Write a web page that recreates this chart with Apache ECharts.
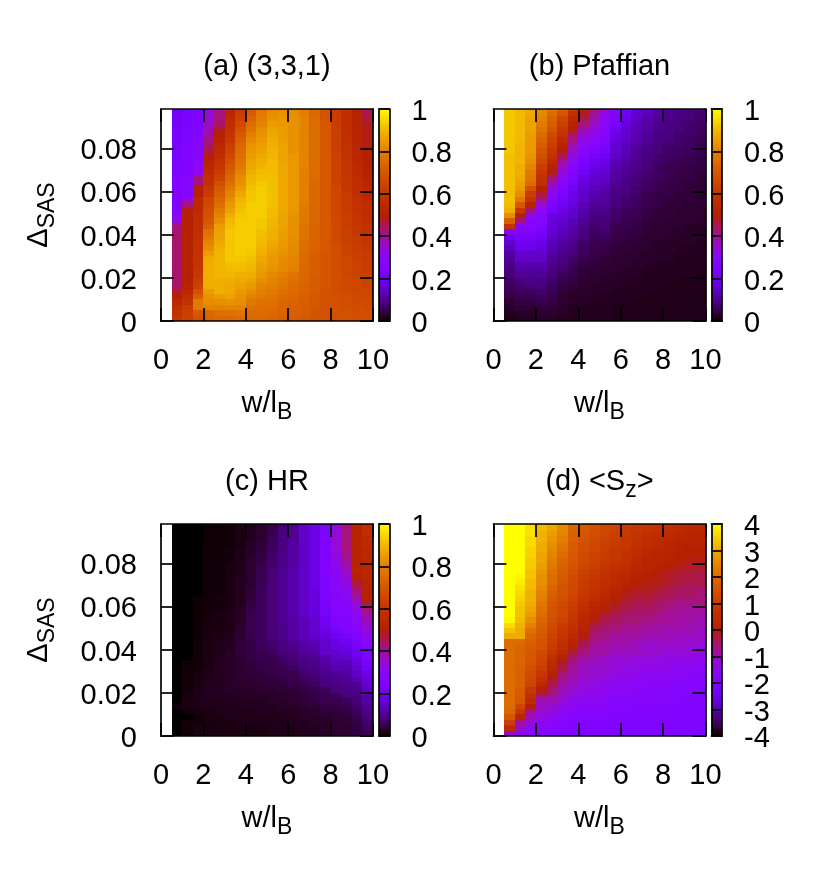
<!DOCTYPE html>
<html><head><meta charset="utf-8"><style>html,body{margin:0;background:#fff}#c{width:830px;height:890px}</style>
<script src="https://cdn.jsdelivr.net/npm/echarts@6/dist/echarts.min.js"></script></head><body><div id="c"></div><script>
const xTicks=[0,2,4,6,8,10];
const yTicks=[0,0.02,0.04,0.06,0.08];
const cbTicksUnit=[0,0.2,0.4,0.6,0.8,1];
const cbTicksSz=[-4,-3,-2,-1,0,1,2,3,4];
// each inner array is one column (w/lB = 0.5, 1.0, ...), bottom row to top row (step 0.0025); a,b,c in percent, d in <Sz>
const panelA=[
[60,58,56,54,50,47,44,43,43,43,43,43,43,43,43,43,43,42,33,27,26,26,26,26,25,25,25,24,24,24,23,23,23,22,22,22,21,21,20,20],
[63,63,62,58,56,54,52,50,50,50,50,50,50,50,50,50,50,50,50,50,49,42,32,28,27,27,27,26,26,26,25,25,25,24,24,24,23,23,23,22],
[68,70,78,78,72,68,64,62,60,60,59,59,58,58,58,57,57,56,56,56,55,55,54,50,50,42,42,32,30,29,28,28,27,27,26,26,25,25,25,24],
[73,74,80,82,83,85,88,88,88,88,88,87,85,82,80,78,76,72,70,68,67,66,65,61,60,58,57,55,54,52,49,46,43,42,39,37,36,35,34,33],
[74,76,80,82,85,88,88,88,89,89,89,89,89,88,87,86,86,85,82,80,78,76,74,72,70,67,64,62,60,58,56,55,54,52,50,48,44,42,42,41],
[74,76,80,83,86,87,87,88,89,90,91,92,92,92,92,92,92,91,90,88,86,84,82,80,78,76,74,72,70,68,66,64,62,60,59,57,56,55,54,53],
[75,77,80,82,83,84,86,87,88,90,91,92,93,93,93,93,93,93,93,92,91,90,89,87,85,83,82,80,78,77,76,75,74,72,70,68,66,64,62,60],
[74,75,76,78,80,82,84,86,88,89,90,91,92,93,93,93,93,93,93,93,93,93,92,92,91,90,89,88,87,86,85,84,83,81,79,77,75,73,71,70],
[74,75,75,76,78,79,80,82,84,85,86,87,88,89,90,90,91,92,92,93,93,93,93,93,93,92,91,90,89,88,87,86,85,84,83,82,80,79,78,76],
[73,74,75,76,77,78,79,80,81,83,84,84,85,86,87,88,88,89,89,90,90,91,91,91,91,91,91,90,90,90,89,89,88,88,87,86,85,83,82,80],
[72,73,73,74,75,76,77,78,79,81,81,82,83,84,84,85,85,86,86,86,87,87,87,87,87,87,87,87,87,86,86,86,86,85,85,85,84,84,83,82],
[71,72,72,73,74,75,75,76,77,79,80,80,81,81,82,82,83,83,83,83,84,84,84,84,84,84,84,84,84,84,84,83,83,83,83,83,83,83,82,82],
[70,71,71,72,72,73,73,74,74,74,74,75,75,76,76,77,77,77,78,78,78,78,79,79,79,79,79,79,80,80,80,80,80,80,80,80,80,80,79,79],
[69,69,70,70,70,71,71,71,72,72,72,72,72,73,73,73,73,73,74,74,74,74,74,74,74,74,75,75,75,75,75,75,75,75,75,75,75,75,74,74],
[68,68,68,68,68,68,69,69,69,69,69,69,69,70,70,70,70,70,70,70,70,70,70,70,70,70,70,70,70,70,70,70,70,70,70,70,70,69,69,69],
[68,68,68,68,68,67,67,67,67,67,67,67,67,67,66,66,66,66,66,65,65,65,65,65,65,64,64,64,64,64,63,63,63,63,63,63,62,62,62,62],
[68,68,67,67,67,66,66,66,65,65,65,65,64,64,63,63,63,62,62,62,61,61,61,61,60,60,60,59,59,59,58,58,58,58,57,57,57,57,57,57],
[67,67,67,66,66,65,65,65,64,64,64,63,63,62,61,61,60,60,59,59,58,58,58,57,57,56,56,55,55,54,54,54,53,53,53,53,52,52,52,52],
[67,67,66,66,65,65,64,64,63,62,62,61,61,60,59,59,58,58,57,56,56,56,55,54,54,53,52,52,51,50,50,50,49,49,49,49,48,47,45,44]];
const panelB=[
[1.5,2,2.5,3,4.5,5,6,7,8,8.5,9,10,11,13,15,18,28,58,72,82,88,90,91,91,91,91,91,91,91,91,91,92,92,92,92,92,92,92,92,92],
[2,2.5,3.5,4.5,5,6,7,8.5,10,11,12,14.5,15,18,20,22,26,27,42,50,60,70,78,82,85,86,87,88,88,89,89,89,89,90,90,90,90,90,90,90],
[2,2.5,3,4.5,5,6,8,9,10,11,12,14.5,15,18,20,22,26,27,28,30,42,52,58,62,68,75,77,78,80,82,83,84,84,85,85,86,86,86,87,87],
[2.5,3,3.5,5,6,7,8,8.5,10,11,12,14.5,15,17,18,20,22,26,27,27,30,34,42,46,50,56,58,60,62,65,67,69,71,73,75,77,78,80,81,82],
[2.5,3,3.5,4.5,5,5,6,7,8,8.5,9,10,11,12,13,14.5,15,17,17,18,22,24,27,29,33,37,42,48,52,55,58,60,62,64,66,69,71,73,75,78],
[2,2.5,2.5,3,3,3.5,4.5,5,6,7,8,8.5,9,10,11,12,13,14.5,15,17,18,20,22,24,26,28,30,33,36,40,44,49,52,55,58,60,63,65,69,73],
[2,2,2,2.5,2.5,3,3.5,4.5,5,5,6,7,8,8.5,9,10,11,12,13,14.5,15,17,18,18,20,22,24,26,27,30,33,36,38,41,44,50,52,54,57,62],
[2,2,2,2.5,2.5,2.5,3,3,3.5,3.5,4.5,5,6,6,7,8,8.5,9,10,11,12,13,14.5,14.5,15,17,18,20,22,24,26,28,30,32,35,38,42,45,48,50],
[2,2,2,2,2.5,2.5,2.5,3,3,3.5,3.5,4.5,4.5,5,5,6,6,7,8,8.5,9,10,11,12,13,14.5,15,17,18,20,22,24,27,29,31,33,35,38,40,42],
[2,2,2,2,2,2.5,2.5,2.5,3,3,3.5,3.5,4.5,4.5,5,6,7,8,8,8.5,9,10,11,11,12,13,14.5,15,17,18,20,22,24,26,27,28,29,30,32,35],
[1.5,1.5,1.5,2,2,2,2.5,2.5,2.5,3,3,3,3.5,3.5,4.5,4.5,5,5,6,7,7,8,8.5,8.5,9,10,11,11,12,13,14.5,15,15,17,18,20,24,24,26,27],
[1.5,1.5,1.5,2,2,2,2,2.5,2.5,2.5,3,3,3,3.5,3.5,4.5,4.5,5,5,6,6,7,7,8,8.5,8.5,9,10,10,11,12,13,13,14.5,15,15,17,18,20,23],
[1.5,1.5,1.5,1.5,2,2,2,2,2.5,2.5,2.5,3,3,3,3.5,3.5,4.5,4.5,4.5,5,5,6,6,7,7,8,8,8.5,9,9,10,10,11,12,12,13,13,14.5,15,17],
[1.5,1.5,1.5,1.5,1.5,2,2,2,2,2,2.5,2.5,2.5,3,3,3,3.5,3.5,3.5,4.5,4.5,5,5,5,6,6,7,7,8,8,8.5,8.5,9,10,10,11,11,12,13,14.5],
[1.5,1.5,1.5,1.5,1.5,1.5,2,2,2,2,2,2.5,2.5,2.5,2.5,3,3,3,3.5,3.5,3.5,4.5,4.5,4.5,5,5,6,6,6,7,7,8,8,8.5,8.5,9,9,10,11,12],
[1.5,1.5,1.5,1.5,1.5,1.5,1.5,2,2,2,2,2.5,2.5,2.5,2.5,2.5,3,3,3,3.5,3.5,3.5,3.5,4.5,4.5,4.5,5,5,5,6,6,7,7,8,8,8.5,8.5,9,9,10],
[1.5,1.5,1.5,1.5,1.5,1.5,1.5,1.5,2,2,2,2,2,2.5,2.5,2.5,2.5,3,3,3,3,3.5,3.5,3.5,4.5,4.5,4.5,4.5,5,5,6,6,7,7,7,8,8,8.5,8.5,9],
[1.5,1.5,1.5,1.5,1.5,1.5,1.5,1.5,2,2,2,2,2,2,2.5,2.5,2.5,2.5,3,3,3,3,3.5,3.5,3.5,3.5,4.5,4.5,4.5,5,5,6,6,6,7,7,7,8,8,8.5],
[1.5,1.5,1.5,1.5,1.5,1.5,1.5,1.5,1.5,2,2,2,2,2,2,2.5,2.5,2.5,2.5,3,3,3,3,3,3.5,3.5,3.5,3.5,4.5,4.5,4.5,5,5,5,6,6,6,7,7,8]];
const panelC=[
[0,0,0,0,0,.5,0,0,0,0,0,0,0,0,0,0,0,0,0,0,0,0,0,0,0,0,0,0,0,0,0,0,0,0,0,0,0,0,0,0],
[.5,.5,.5,0,.5,1,1,1,.5,.5,.5,.5,.5,.5,0,0,0,0,0,0,0,0,0,0,0,0,0,0,0,0,0,0,0,0,0,0,0,0,0,0],
[1,1,.5,.5,1,1.5,1.5,1.5,1.5,1,1,1,.5,.5,.5,.5,.5,.5,.3,.3,.3,.3,.3,.3,.3,.3,0,0,0,0,0,0,0,0,0,0,0,0,0,0],
[1,1,1,1,1,1.5,1.5,2,2,2,1.5,1.5,1.5,1,1,1,1,1,1,1,.8,.8,.8,.5,.5,.5,.5,.5,.5,.5,.5,.5,.5,.5,.3,.3,.3,.3,.3,.3],
[1,1,1,1,1.5,1.5,1.5,2,2,2,2,2,2,2,2,1.5,1.5,1.5,1.5,1,1,1,1,.8,.8,.8,.5,.5,.5,.5,.5,.5,.5,.5,.3,.3,.3,.3,.3,.3],
[1,1,1,1.5,1.5,1.5,2,2,2.5,2.5,2.5,2.5,2.5,2.5,2.5,2.5,2,2,2,1.5,1.5,1.5,1.5,1,1,1,1,1,1,1,1,1,.8,.8,.8,.5,.5,.5,.5,.5],
[1,1,1.5,1.5,1.5,2,2,2.5,2.5,2.5,3,3,3,3,3,3.5,3.5,3.5,3,3,3,2.5,2.5,2.5,2,2,2,2,2,2,1.5,1.5,1.5,1.5,1.5,1,1,1,1,1],
[1,1,1.5,1.5,1.5,2,2,2.5,2.5,3,3,3.5,3.5,3.5,4.5,4.5,4.5,4.5,5,5,5,5,5,4.5,4.5,3.5,3.5,3,3,3,3,3,3,2.5,2.5,2.5,2,2,2,1.5],
[1,1,1.5,1.5,2,2,2,2.5,3,3,3.5,3.5,4.5,4.5,5,5,6,6,6,6,6,6,6,6,6,6,6,6,5,5,5,5,4.5,4.5,3.5,3.5,3,3,3,2.5],
[1.5,1.5,1.5,1.5,2,2,2.5,2.5,3,3.5,3.5,4.5,4.5,5,5,6,7,7,8,8,8,8,8,8,8,8,8,8,8,8,8,7,7,7,6,6,6,5,5,4.5],
[1.5,1.5,1.5,2,2,2.5,2.5,3,3.5,3.5,4.5,5,5,6,7,8,8.5,8.5,9,9,9,10,10,10,10,10,10,10,10,10,10,9,9,9,8.5,8.5,8.5,8,8,7],
[1.5,1.5,2,2,2,2.5,3,3,3.5,4.5,5,5,6,7,8,8.5,9,10,11,11,11,11,12,12,12,12,12,12,12,12,12,11,11,11,11,11,10,10,10,9],
[2,2,2,2.5,2.5,3,3.5,3.5,4.5,5,6,7,8,8.5,9,10,11,12,13,13,13,13,14.5,14.5,14.5,14.5,14.5,14.5,14.5,14.5,14.5,14.5,14.5,14.5,14.5,14.5,14.5,14.5,14.5,14.5],
[2,2,2.5,2.5,3,3.5,4.5,4.5,5,6,7,8,8.5,9,10,11,12,13,14.5,15,15,15,17,17,17,17,17,18,18,18,18,18,18,18,18,18,18,18,18,18],
[2.5,2.5,2.5,3,3.5,4.5,5,5,6,8,8.5,9,10,11,12,14.5,15,15,17,18,20,20,22,22,22,24,24,24,24,26,26,26,26,26,26,26,26,24,24,24],
[3,3,3,3.5,3.5,4.5,5,6,8,8.5,9,10,12,13,14.5,15,18,18,20,22,24,26,26,27,27,28,28,29,29,29,29,31,32,33,34,34,34,34,33,33],
[3,3,3.5,3.5,4.5,5,6,8,8.5,9,10,11,12,13,15,17,18,20,22,24,26,26,27,27,28,29,30,31,33,35,36,38,40,41,42,42,42,42,42,42],
[4,4,4.5,5,6,7,8,8.5,9,10,12,14,15,17,18,20,22,24,26,27,28,29,30,32,34,38,41,44,47,50,52,52,52,52,52,52,52,52,52,52],
[5,6,7,8,9,10,11,12,14,15,16,18,20,22,24,25,27,29,31,33,35,37,39,42,46,50,51,52,52,53,53,53,54,54,54,55,55,56,56,57]];
const panelD=[
[-1.2,.4,1,1.6,1.9,2,2,2,2,2,2,2,2,2,2,2,2,2,3,3.3,3.6,3.9,4,4,4,4,4,4,4,4,4,4,4,4,4,4,4,4,4,4],
[-1.5,-1.2,-.8,.2,.8,1.2,1.6,1.7,1.7,1.8,1.8,1.8,1.8,1.9,1.9,1.9,1.9,2,3,3,3.1,3.2,3.3,3.3,3.4,3.5,3.6,3.7,3.8,3.9,4,4,4,4,4,4,4,4,4,4],
[-1.7,-1.6,-1.3,-1,-.8,0,.4,.6,.8,1.1,1.2,1.3,1.4,1.5,1.6,1.6,1.7,1.8,1.9,2.1,2.4,2.6,2.8,2.9,3,3.1,3.1,3.2,3.2,3.3,3.3,3.4,3.4,3.5,3.5,3.6,3.6,3.7,3.7,3.7],
[-1.8,-1.7,-1.6,-1.4,-1.3,-1.1,-1,-.5,-.1,.3,.6,.8,1,1.1,1.2,1.3,1.5,1.5,1.6,1.7,1.8,1.9,2,2.1,2.2,2.3,2.4,2.5,2.6,2.6,2.7,2.8,2.9,2.9,3,3,3.1,3.1,3.2,3.2],
[-1.9,-1.8,-1.7,-1.5,-1.4,-1.2,-1,-.8,-.6,-.4,-.2,.1,.3,.4,.6,.8,.9,1,1.1,1.2,1.3,1.4,1.5,1.5,1.6,1.7,1.8,1.9,2,2,2.1,2.2,2.3,2.4,2.5,2.6,2.7,2.8,2.9,3],
[-2,-1.9,-1.8,-1.7,-1.6,-1.5,-1.3,-1.2,-1,-.9,-.8,-.6,-.4,-.2,.1,.4,.5,.6,.7,.8,.9,1.1,1.2,1.2,1.3,1.4,1.5,1.5,1.6,1.7,1.7,1.8,1.9,2,2.1,2.2,2.3,2.4,2.5,2.6],
[-2,-1.9,-1.9,-1.8,-1.7,-1.6,-1.5,-1.3,-1.2,-1.1,-1,-.9,-.8,-.7,-.5,-.3,.1,.2,.4,.5,.6,.7,.8,.9,1,1.1,1.2,1.2,1.3,1.3,1.4,1.5,1.6,1.6,1.7,1.7,1.8,1.8,1.9,2],
[-2,-2,-1.9,-1.9,-1.8,-1.7,-1.6,-1.5,-1.4,-1.3,-1.2,-1.1,-1.1,-1,-.8,-.7,-.5,-.3,-.1,.1,.2,.3,.4,.5,.6,.7,.8,.9,.9,1,1.1,1.2,1.3,1.3,1.4,1.4,1.5,1.5,1.6,1.7],
[-2,-2,-1.9,-1.9,-1.8,-1.7,-1.6,-1.5,-1.5,-1.4,-1.3,-1.2,-1.2,-1.1,-1,-.9,-.8,-.7,-.6,-.5,-.3,-.1,.1,.2,.3,.5,.6,.7,.7,.8,.9,1,1.1,1.1,1.2,1.2,1.3,1.4,1.4,1.5],
[-2,-2,-1.9,-1.9,-1.8,-1.7,-1.7,-1.6,-1.5,-1.5,-1.4,-1.3,-1.2,-1.2,-1.1,-.9,-.9,-.8,-.7,-.6,-.5,-.4,-.2,0,.1,.2,.4,.5,.5,.6,.7,.8,.9,.9,1,1,1.1,1.2,1.2,1.3],
[-2,-2,-1.9,-1.9,-1.9,-1.8,-1.8,-1.7,-1.6,-1.6,-1.5,-1.4,-1.3,-1.3,-1.2,-1.1,-1,-.9,-.9,-.7,-.6,-.5,-.4,-.2,-.1,0,.1,.3,.4,.4,.5,.6,.7,.8,.8,.9,1,1,1.1,1.2],
[-2,-2,-2,-1.9,-1.9,-1.8,-1.8,-1.7,-1.6,-1.6,-1.5,-1.4,-1.4,-1.3,-1.2,-1.1,-1,-.9,-.9,-.8,-.7,-.6,-.5,-.4,-.3,-.2,-.1,.1,.2,.3,.4,.5,.6,.6,.7,.8,.8,.9,.9,1],
[-2,-2,-2,-1.9,-1.9,-1.9,-1.8,-1.8,-1.7,-1.7,-1.6,-1.5,-1.4,-1.4,-1.3,-1.1,-1.1,-1,-.9,-.8,-.7,-.6,-.6,-.5,-.4,-.3,-.2,-.1,0,.1,.2,.3,.4,.5,.5,.6,.7,.7,.8,.9],
[-2,-2,-2,-1.9,-1.9,-1.9,-1.8,-1.8,-1.8,-1.7,-1.7,-1.6,-1.5,-1.4,-1.3,-1.2,-1.2,-1.1,-1,-.9,-.8,-.7,-.6,-.5,-.4,-.3,-.2,-.1,-.1,0,.1,.2,.2,.3,.4,.5,.5,.6,.7,.8],
[-2,-2,-2,-2,-1.9,-1.9,-1.8,-1.8,-1.8,-1.7,-1.7,-1.6,-1.5,-1.4,-1.4,-1.2,-1.2,-1.1,-1,-.9,-.9,-.8,-.7,-.6,-.5,-.4,-.3,-.2,-.1,-.1,0,.1,.2,.2,.3,.4,.4,.5,.6,.7],
[-2,-2,-2,-2,-1.9,-1.9,-1.9,-1.8,-1.8,-1.8,-1.7,-1.6,-1.5,-1.5,-1.4,-1.3,-1.2,-1.1,-1,-1,-.9,-.8,-.8,-.7,-.6,-.5,-.4,-.3,-.2,-.2,-.1,0,.1,.1,.2,.2,.3,.4,.5,.6],
[-2,-2,-2,-2,-2,-1.9,-1.9,-1.8,-1.8,-1.8,-1.7,-1.6,-1.6,-1.5,-1.4,-1.3,-1.2,-1.1,-1.1,-1,-.9,-.9,-.8,-.8,-.7,-.6,-.5,-.4,-.3,-.3,-.2,-.1,0,0,.1,.1,.2,.3,.4,.5],
[-2,-2,-2,-2,-2,-1.9,-1.9,-1.9,-1.8,-1.8,-1.8,-1.7,-1.6,-1.5,-1.4,-1.3,-1.2,-1.2,-1.1,-1,-1,-.9,-.9,-.8,-.7,-.6,-.5,-.5,-.4,-.3,-.3,-.2,-.1,0,0,.1,.2,.2,.3,.4],
[-2,-2,-2,-2,-2,-1.9,-1.9,-1.9,-1.8,-1.8,-1.8,-1.7,-1.7,-1.6,-1.5,-1.4,-1.3,-1.2,-1.1,-1.1,-1,-1,-.9,-.8,-.7,-.6,-.6,-.5,-.4,-.4,-.3,-.2,-.1,0,0,.1,.1,.2,.3,.35]];
function pal(t){t=Math.max(0,Math.min(1,t));const r=Math.sqrt(t),g=t*t*t,b=Math.max(0,Math.sin(2*Math.PI*t));
 return 'rgb('+Math.round(r*255)+','+Math.round(g*255)+','+Math.round(b*255)+')';}
const FONT='Liberation Sans',FS=29,SUB=23;
const RICH={n:{fontFamily:FONT,fontSize:FS,color:'#000',lineHeight:35,verticalAlign:'top'},s:{fontFamily:FONT,fontSize:SUB,color:'#000',lineHeight:35,verticalAlign:'bottom'}};
const LINE={color:'#000',width:1.7};
const grids=[],xAxes=[],yAxes=[],series=[],titles=[];
function frameAxis(o){return Object.assign({z:10,axisLine:{show:true,onZero:false,lineStyle:LINE},splitLine:{show:false}},o);}
function add(o){
 const gi=grids.length;const W=212,H=212;
 grids.push({left:o.x,top:o.y,width:W,height:H});
 xAxes.push(frameAxis({gridIndex:gi,type:'value',min:0,max:10,position:'bottom',name:'{n|w/l}{s|B}',nameLocation:'middle',nameGap:68,
  nameTextStyle:{rich:RICH},
  axisTick:{inside:true,length:13,customValues:xTicks,lineStyle:LINE},
  axisLabel:{customValues:xTicks,margin:25,fontFamily:FONT,fontSize:FS,color:'#000'}}));
 xAxes.push(frameAxis({gridIndex:gi,type:'value',min:0,max:10,position:'top',axisLabel:{show:false},axisTick:{inside:true,length:13,customValues:xTicks,lineStyle:LINE}}));
 const yl=frameAxis({gridIndex:gi,type:'value',min:0,max:0.0982,position:'left',
  axisTick:{inside:true,length:13,customValues:yTicks,lineStyle:LINE},
  axisLabel:{show:o.yl,customValues:yTicks,margin:24,verticalAlign:'top',lineHeight:6,formatter:v=>String(v),fontFamily:FONT,fontSize:FS,color:'#000'}});
 if(o.yl){yl.name='{n|Δ}{s|SAS}';yl.nameLocation='middle';yl.nameGap=102;yl.nameRotate=90;yl.nameTextStyle={rich:RICH};}
 yAxes.push(yl);
 yAxes.push(frameAxis({gridIndex:gi,type:'value',min:0,max:0.0982,position:'right',axisLabel:{show:false},axisTick:{inside:true,length:13,customValues:yTicks,lineStyle:LINE}}));
 const data=[];o.cols.forEach((col,i)=>col.forEach((v,j)=>data.push([0.5+0.5*i,0.0025*j,v])));
 series.push({type:'custom',xAxisIndex:xAxes.length-2,yAxisIndex:yAxes.length-2,clip:true,silent:true,animation:false,data,encode:{x:0,y:1},z:2,
  renderItem:(p,api)=>{const a=api.coord([api.value(0),api.value(1)+0.0025]),b=api.coord([api.value(0)+0.5,api.value(1)]);
   const x0=Math.round(a[0]),y0=Math.round(a[1]),x1=Math.round(b[0]),y1=Math.round(b[1]);
   return {type:'rect',shape:{x:x0,y:y0,width:x1-x0,height:y1-y0},style:{fill:pal(o.norm(api.value(2)))}};}});
 const [mn,mx]=[o.cb[0],o.cb[o.cb.length-1]];
 const cg=grids.length;
 grids.push({left:o.x+218,top:o.y,width:10.6,height:H});
 xAxes.push(frameAxis({gridIndex:cg,type:'value',min:0,max:1,position:'bottom',axisLabel:{show:false},axisTick:{show:false}}));
 xAxes.push(frameAxis({gridIndex:cg,type:'value',min:0,max:1,position:'top',axisLabel:{show:false},axisTick:{show:false}}));
 // tightly spaced tick labels are split over two right-hand axes so none is dropped as overlapping
 const split=o.cb.length>6;
 const labA=split?o.cb.filter((v,i)=>i%2===0):o.cb, labB=split?o.cb.filter((v,i)=>i%2===1):[];
 const cbLabel=vals=>({customValues:vals,margin:22,verticalAlign:'top',lineHeight:6,showMinLabel:true,showMaxLabel:true,interval:0,formatter:v=>String(v),fontFamily:FONT,fontSize:FS,color:'#000'});
 yAxes.push(frameAxis({gridIndex:cg,type:'value',min:mn,max:mx,position:'right',
  axisTick:{inside:true,length:10.6,customValues:o.cb,lineStyle:LINE},axisLabel:cbLabel(labA)}));
 yAxes.push(frameAxis({gridIndex:cg,type:'value',min:mn,max:mx,position:'left',axisLabel:{show:false},axisTick:{show:false}}));
 const lv=[];for(let k=0;k<106;k++)lv.push([k/106]);
 series.push({type:'custom',xAxisIndex:xAxes.length-2,yAxisIndex:yAxes.length-2,clip:true,silent:true,animation:false,data:lv,encode:{y:0},z:2,
  renderItem:(p,api)=>{const t=api.value(0),a=api.coord([0,mn+(mx-mn)*(t+1/106)]),b=api.coord([1,mn+(mx-mn)*t]);
   return {type:'rect',shape:{x:a[0],y:a[1]-0.3,width:b[0]-a[0],height:b[1]-a[1]+0.6},style:{fill:pal(t)}};}});
 if(split)yAxes.push(frameAxis({gridIndex:cg,type:'value',min:mn,max:mx,position:'right',axisLine:{show:false},axisTick:{show:false},axisLabel:cbLabel(labB)}));
 titles.push({text:o.title,left:o.x+101,top:o.y-62,textAlign:'center',textStyle:{fontFamily:FONT,fontSize:FS,fontWeight:'normal',color:'#000',rich:RICH}});
}
const unit=v=>v/100,sz=v=>(v+4)/8;
add({x:161,y:109,yl:true,cols:panelA,norm:unit,cb:cbTicksUnit,title:'{n|(a) (3,3,1)}'});
add({x:493.5,y:109,yl:false,cols:panelB,norm:unit,cb:cbTicksUnit,title:'{n|(b) Pfaffian}'});
add({x:161,y:524,yl:true,cols:panelC,norm:unit,cb:cbTicksUnit,title:'{n|(c) HR}'});
add({x:493.5,y:524,yl:false,cols:panelD,norm:sz,cb:cbTicksSz,title:'{n|(d) <S}{s|z}{n|>}'});
const chart=echarts.init(document.getElementById('c'),null,{renderer:'canvas'});
chart.setOption({animation:false,backgroundColor:'#fff',title:titles,grid:grids,xAxis:xAxes,yAxis:yAxes,series});
</script></body></html>
